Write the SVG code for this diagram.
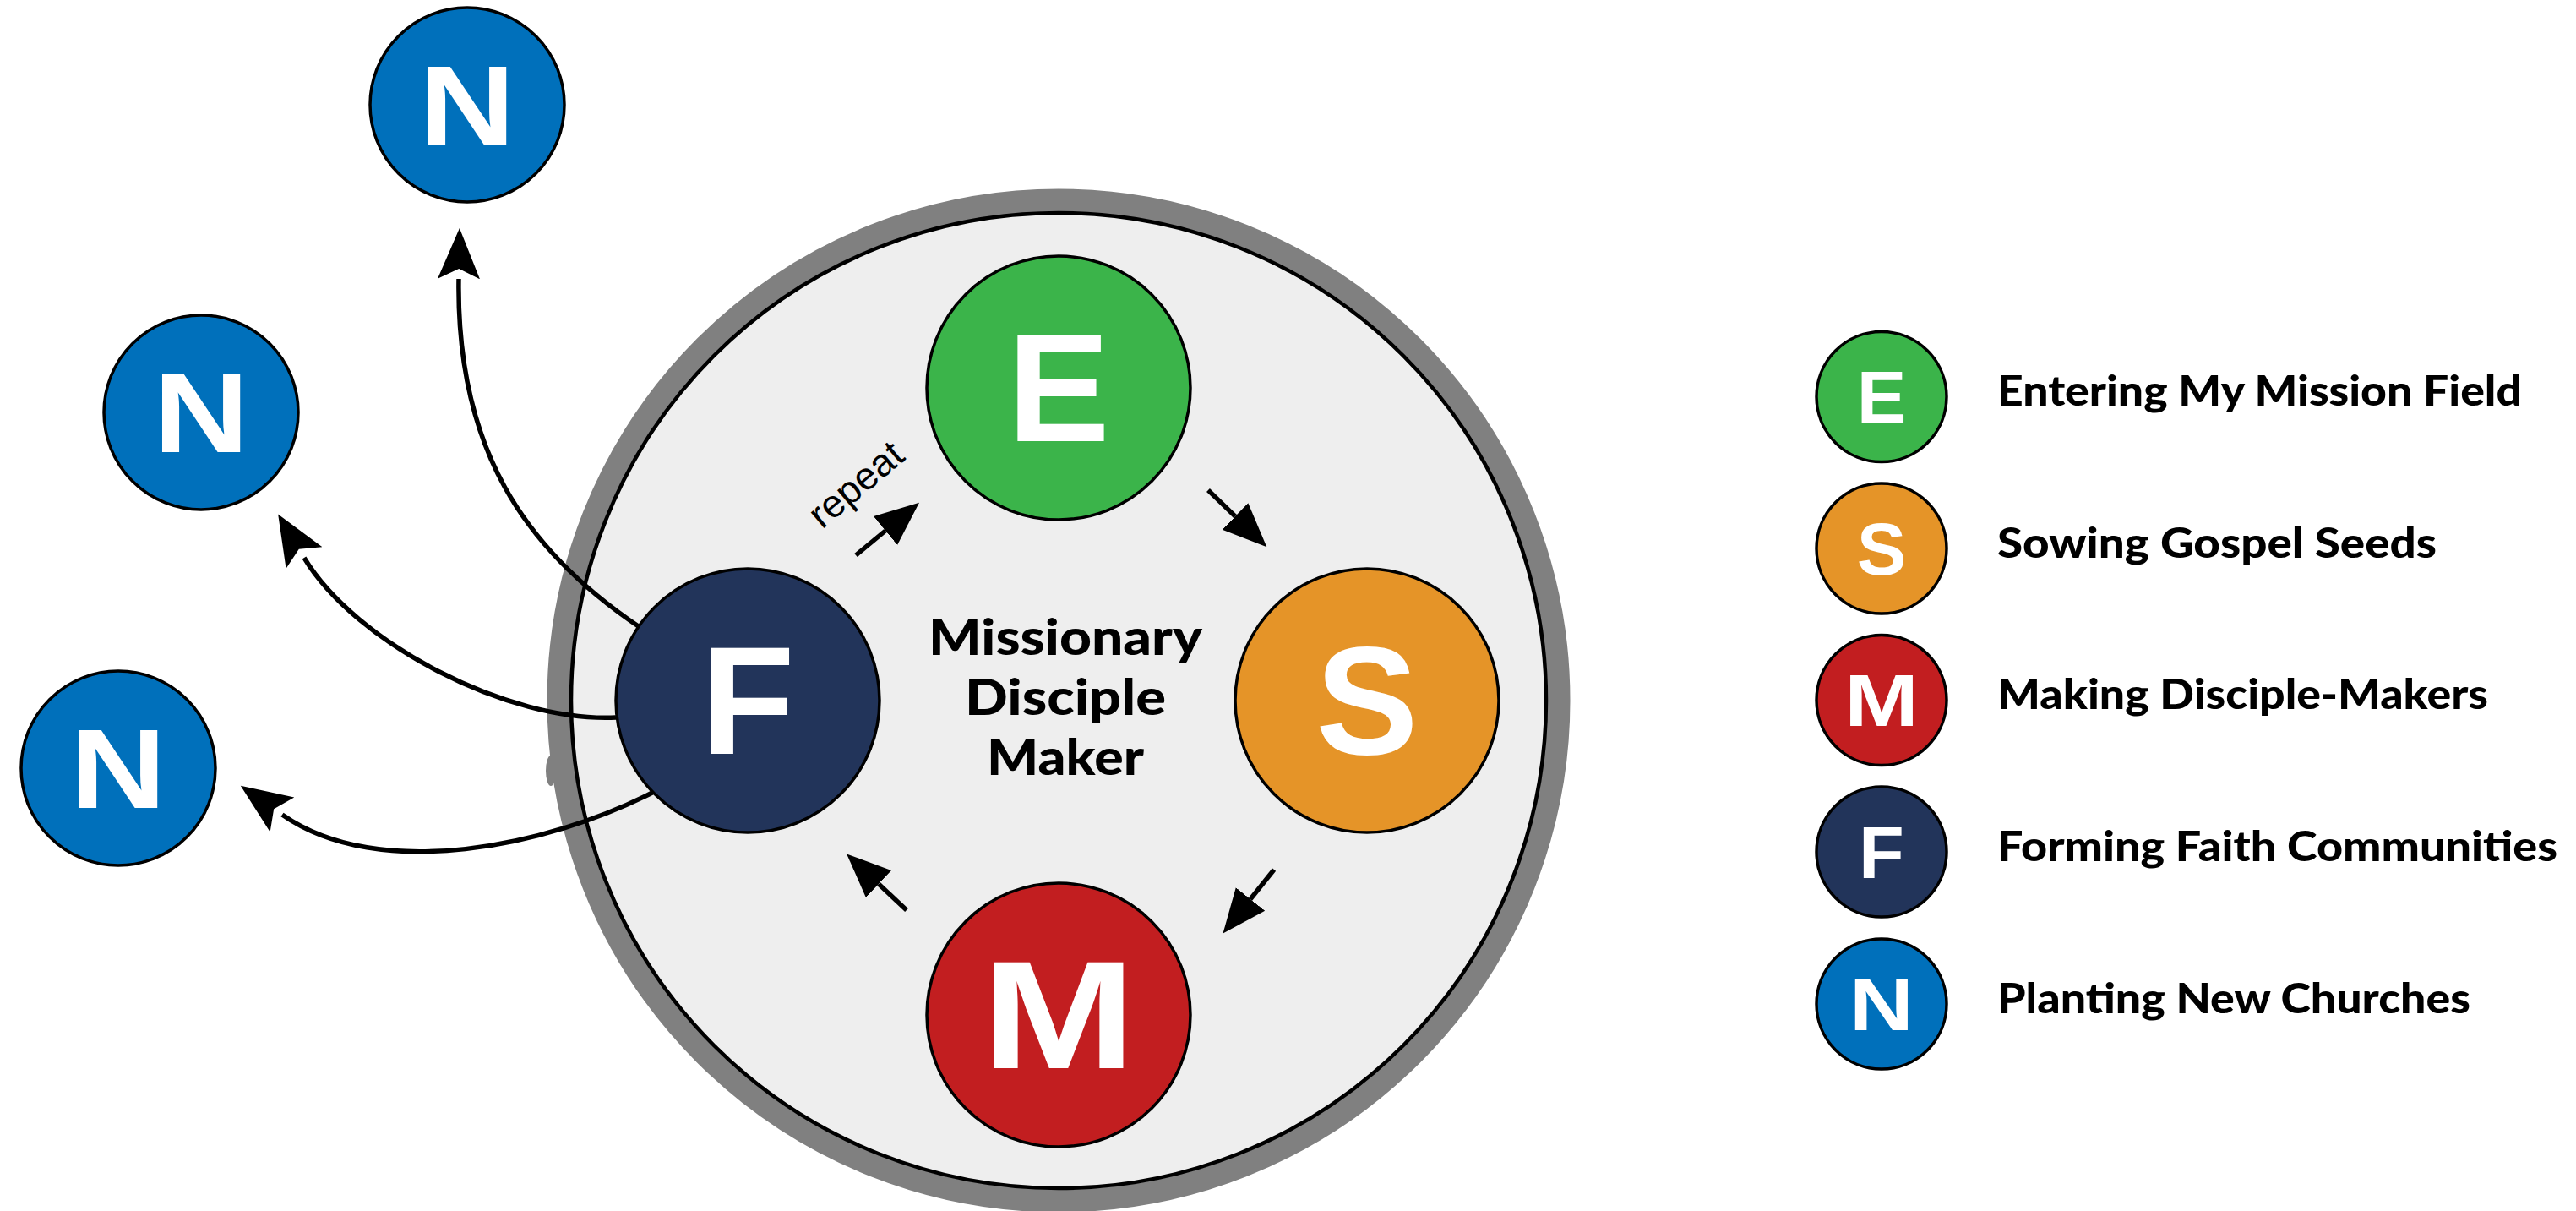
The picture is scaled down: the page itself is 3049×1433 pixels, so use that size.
<svg xmlns="http://www.w3.org/2000/svg" width="3049" height="1433" viewBox="0 0 3049 1433">
<defs>
<style>
.n circle{stroke:#000;stroke-width:3.5}
.L{font-family:"Liberation Sans",Arial,sans-serif;font-weight:700;fill:#fff;text-anchor:middle}
.big{font-size:182px}
.out{font-size:134px}
.leg{font-size:88px}
.lab{font-family:Lato,"Open Sans",sans-serif;font-weight:900;font-size:49px;fill:#000}
.ctr{font-family:Lato,"Open Sans",sans-serif;font-weight:900;font-size:58.5px;fill:#000;text-anchor:middle}
.e{fill:#3bb44a}.s{fill:#e59428}.m{fill:#c21e20}.f{fill:#22345a}.nn{fill:#0070bb}
.curve{fill:none;stroke:#000;stroke-width:5.5}
.inner{fill:none;stroke:#000;stroke-width:5.5}
</style>
<marker id="ah" viewBox="0 -23 52 46" refX="0" refY="0" markerWidth="52" markerHeight="46" markerUnits="userSpaceOnUse" orient="auto"><path d="M0,-22 L52,0 L0,22 Z" fill="#000"/></marker>
<marker id="ah2" viewBox="0 -26 62 52" refX="0" refY="0" markerWidth="62" markerHeight="52" markerUnits="userSpaceOnUse" orient="auto"><path d="M0,-25 L60,0 L0,25 L12,0 Z" fill="#000"/></marker>
</defs>
<rect width="3049" height="1433" fill="#fff"/>

<g id="field">
<circle cx="1253" cy="829" r="592" fill="#eeeeee" stroke="#808080" stroke-width="27"/>
<ellipse cx="652" cy="912" rx="6" ry="18" fill="#808080"/>
<circle cx="1253" cy="829" r="577" fill="none" stroke="#000" stroke-width="4.5"/>
<text class="ctr" x="1261" y="775" textLength="324" lengthAdjust="spacingAndGlyphs">Missionary</text>
<text class="ctr" x="1261" y="846" textLength="238" lengthAdjust="spacingAndGlyphs">Disciple</text>
<text class="ctr" x="1261" y="917" textLength="186" lengthAdjust="spacingAndGlyphs">Maker</text>
</g>

<g id="connectors">
<path class="curve" d="M757,742 C620,650 540,530 543,330" marker-end="url(#ah2)"/>
<path class="curve" d="M729,849 C600,855 420,760 360,660" marker-end="url(#ah2)"/>
<path class="curve" d="M772,938 C650,1000 450,1045 334,964" marker-end="url(#ah2)"/>
<line class="inner" x1="1013" y1="657" x2="1048" y2="628" marker-end="url(#ah)"/>
<line class="inner" x1="1430" y1="580" x2="1462" y2="611" marker-end="url(#ah)"/>
<line class="inner" x1="1508" y1="1029" x2="1480" y2="1064" marker-end="url(#ah)"/>
<line class="inner" x1="1073" y1="1077" x2="1040" y2="1046" marker-end="url(#ah)"/>
<text x="1023" y="585" transform="rotate(-40 1023 585)" font-family="Liberation Sans,Arial,sans-serif" font-size="46" text-anchor="middle" fill="#000">repeat</text>
</g>

<g id="node-E" class="n"><circle class="e" cx="1253" cy="459" r="156"/><text class="L big" x="1253" y="522">E</text></g>
<g id="node-S" class="n"><circle class="s" cx="1618" cy="829" r="156"/><text class="L big" x="1618" y="892">S</text></g>
<g id="node-M" class="n"><circle class="m" cx="1253" cy="1201" r="156"/><text class="L big" transform="translate(1253 1264) scale(1.2 1)" x="0" y="0">M</text></g>
<g id="node-F" class="n"><circle class="f" cx="885" cy="829" r="156"/><text class="L big" x="885" y="892">F</text></g>

<g id="node-N1" class="n"><circle class="nn" cx="553" cy="124" r="115"/><text class="L out" transform="translate(553 171) scale(1.17 1)" x="0" y="0">N</text></g>
<g id="node-N2" class="n"><circle class="nn" cx="238" cy="488" r="115"/><text class="L out" transform="translate(238 535) scale(1.17 1)" x="0" y="0">N</text></g>
<g id="node-N3" class="n"><circle class="nn" cx="140" cy="909" r="115"/><text class="L out" transform="translate(140 956) scale(1.17 1)" x="0" y="0">N</text></g>

<g id="legend">
<g id="legend-E" class="n"><circle class="e" cx="2227" cy="469.5" r="77"/><text class="L leg" x="2227" y="500">E</text><text class="lab" x="2364" y="480" textLength="621" lengthAdjust="spacingAndGlyphs">Entering My Mission Field</text></g>
<g id="legend-S" class="n"><circle class="s" cx="2227" cy="649" r="77"/><text class="L leg" x="2227" y="679.5">S</text><text class="lab" x="2364" y="659.5" textLength="520" lengthAdjust="spacingAndGlyphs">Sowing Gospel Seeds</text></g>
<g id="legend-M" class="n"><circle class="m" cx="2227" cy="828.5" r="77"/><text class="L leg" transform="translate(2227 859) scale(1.2 1)" x="0" y="0">M</text><text class="lab" x="2364" y="839" textLength="581" lengthAdjust="spacingAndGlyphs">Making Disciple-Makers</text></g>
<g id="legend-F" class="n"><circle class="f" cx="2227" cy="1008" r="77"/><text class="L leg" x="2227" y="1038.5">F</text><text class="lab" x="2364" y="1018.5" textLength="663" lengthAdjust="spacingAndGlyphs">Forming Faith Communities</text></g>
<g id="legend-N" class="n"><circle class="nn" cx="2227" cy="1188" r="77"/><text class="L leg" transform="translate(2227 1218.5) scale(1.2 1)" x="0" y="0">N</text><text class="lab" x="2364" y="1198.5" textLength="560" lengthAdjust="spacingAndGlyphs">Planting New Churches</text></g>
</g>
</svg>
